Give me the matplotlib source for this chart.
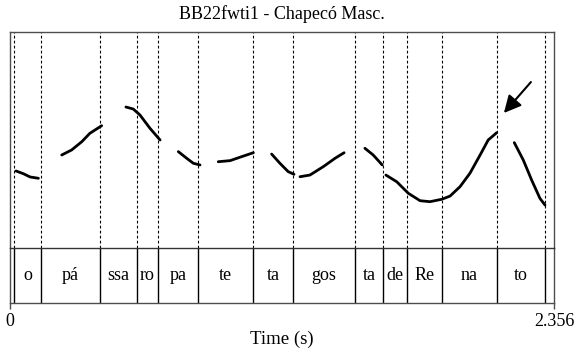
"""Praat-style pitch contour with a syllable tier: BB22fwti1 - Chapecó Masc."""

import matplotlib.pyplot as plt

plt.rcParams.update({"font.family": ["Liberation Serif", "DejaVu Serif"]})

DURATION = 2.356
HZ_RANGE = (70, 250)

# syllable tier: boundaries (s) and the labels between consecutive boundaries
BOUNDS = [0.0173, 0.1343, 0.391, 0.549, 0.642, 0.813, 1.054, 1.224,
          1.495, 1.617, 1.718, 1.872, 2.109, 2.318]
SYLLABLES = ["o", "pá", "ssa", "ro", "pa", "te", "ta", "gos",
             "ta", "de", "Re", "na", "to"]

# voiced stretches of the F0 contour (time in s, F0 in Hz)
SEG_T = [
    [0.026, 0.058, 0.087, 0.123],
    [0.224, 0.267, 0.311, 0.346, 0.397],
    [0.502, 0.534, 0.563, 0.606, 0.650],
    [0.729, 0.765, 0.794, 0.823],
    [0.902, 0.953, 1.003, 1.054],
    [1.133, 1.169, 1.205, 1.230],
    [1.256, 1.299, 1.357, 1.408, 1.447],
    [1.537, 1.573, 1.612],
    [1.628, 1.675, 1.725, 1.776, 1.819, 1.870, 1.906, 1.949, 1.992, 2.036, 2.071, 2.108],
    [2.184, 2.223, 2.259, 2.295, 2.317],
]
SEG_HZ = [
    [134.2, 131.9, 129.2, 128.1],
    [147.5, 151.7, 158.6, 165.6, 171.9],
    [187.5, 185.8, 180.8, 169.8, 160.0],
    [150.3, 144.8, 140.6, 139.2],
    [141.9, 142.8, 146.1, 149.4],
    [148.3, 140.6, 133.6, 131.4],
    [129.4, 130.8, 137.8, 144.8, 149.4],
    [153.1, 147.5, 139.2],
    [130.8, 125.2, 115.6, 109.4, 108.6, 110.6, 113.3, 121.1, 132.3, 147.5, 160.0, 166.1],
    [157.8, 143.3, 126.7, 111.4, 105.8],
]

# arrow pointing at the F0 peak on "na"
ARROW_TAIL = (2.256, 208.3)
ARROW_TIP = (2.139, 182.5)

fig = plt.figure(figsize=(5.76, 3.52), dpi=100)
left, right = 10 / 576, 554 / 576
y_top, y_mid, y_bot = 1 - 32 / 352, 1 - 248 / 352, 1 - 303 / 352
ax = fig.add_axes([left, y_mid, right - left, y_top - y_mid])
ax_tier = fig.add_axes([left, y_bot, right - left, y_mid - y_bot], sharex=ax)

for a in (ax, ax_tier):
    for sp in a.spines.values():
        sp.set_color("0.3")
        sp.set_linewidth(1.0)
ax.spines["bottom"].set_visible(False)
ax_tier.spines["top"].set_color("0.2")

ax.set_xlim(0, DURATION)
ax.set_ylim(*HZ_RANGE)
ax.tick_params(left=False, bottom=False, labelleft=False, labelbottom=False)

for b in BOUNDS:
    ax.axvline(b, color="black", lw=0.8, ls=(0, (2.5, 2)))
    ax_tier.axvline(b, color="black", lw=1.0)

for t, hz in zip(SEG_T, SEG_HZ):
    ax.plot(t, hz, color="black", lw=2.0, solid_capstyle="round", solid_joinstyle="round")

ax.annotate("", xy=ARROW_TIP, xytext=ARROW_TAIL,
            arrowprops=dict(arrowstyle="-|>", color="black", lw=1.5, mutation_scale=26,
                            shrinkA=0, shrinkB=0))

ax_tier.set_ylim(0, 1)
ax_tier.set_yticks([])
for (t0, t1), label in zip(zip(BOUNDS[:-1], BOUNDS[1:]), SYLLABLES):
    ax_tier.text((t0 + t1) / 2, 0.5, label, ha="center", va="center", fontsize=13)

ax_tier.set_xticks([0, DURATION])
ax_tier.set_xticklabels(["0", "2.356"])
ax_tier.tick_params(axis="x", direction="out", length=4, width=1, color="0.3",
                    labelsize=13, pad=3)
ax_tier.set_xlabel("Time (s)", fontsize=13.5, labelpad=1)

fig.suptitle("BB22fwti1 - Chapecó Masc.", x=(left + right) / 2, y=0.985, fontsize=13)

fig.savefig("out.png", dpi=100)
